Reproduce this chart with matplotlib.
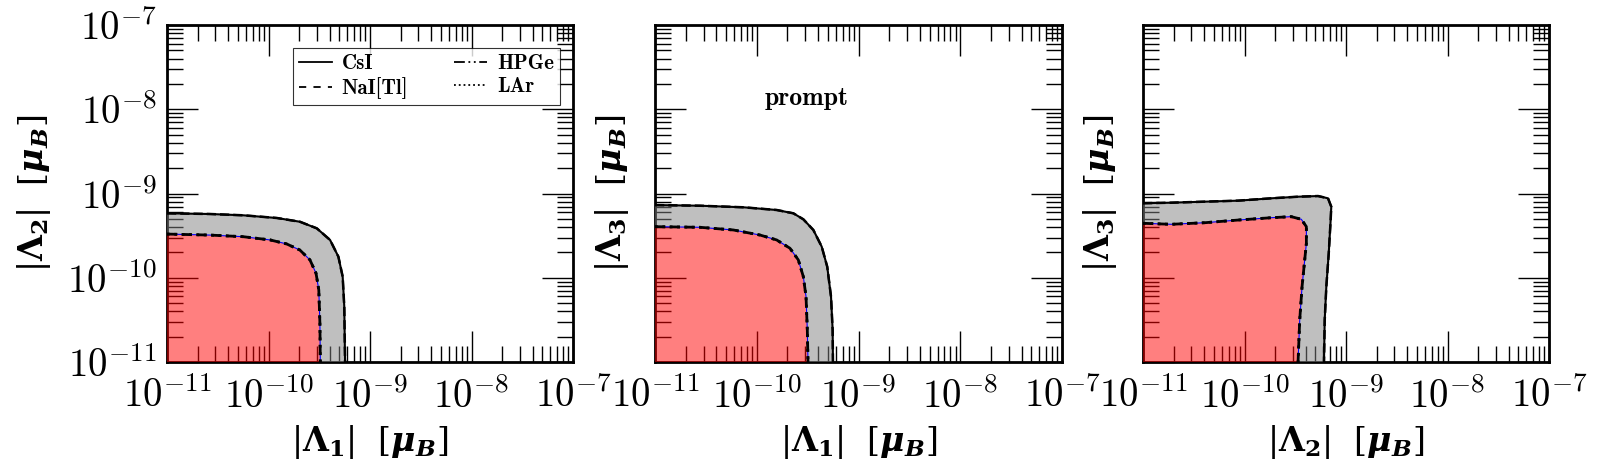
import numpy as np
import matplotlib
matplotlib.use("Agg")
import matplotlib.pyplot as plt
from matplotlib.lines import Line2D
from matplotlib.ticker import LogLocator, FuncFormatter, NullFormatter

plt.rcParams['mathtext.fontset'] = 'cm'
plt.rcParams['mathtext.rm'] = 'DejaVu Serif'
plt.rcParams['mathtext.bf'] = 'DejaVu Serif:bold'
plt.rcParams['mathtext.bfit'] = 'DejaVu Serif:italic:bold'
plt.rcParams['mathtext.it'] = 'DejaVu Serif:italic'

# boundaries of the allowed regions
# panel 1: |L1| vs |L2|
p1_outer_x = [1.0e-11, 2.65e-11, 5.65e-11, 1.21e-10, 2.04e-10, 2.99e-10, 4.04e-10, 4.88e-10, 5.38e-10, 5.58e-10, 5.68e-10]
p1_outer_y = [5.82e-10, 5.71e-10, 5.51e-10, 5.12e-10, 4.62e-10, 3.86e-10, 2.81e-10, 1.78e-10, 1.03e-10, 4.53e-11, 1.0e-11]
p1_inner_x = [1.0e-11, 2.65e-11, 5.65e-11, 1.04e-10, 1.51e-10, 2.04e-10, 2.56e-10, 2.94e-10, 3.13e-10, 3.21e-10, 3.24e-10]
p1_inner_y = [3.30e-10, 3.21e-10, 3.07e-10, 2.81e-10, 2.52e-10, 2.13e-10, 1.63e-10, 1.13e-10, 7.16e-11, 2.88e-11, 1.0e-11]

# panel 2: |L1| vs |L3|
p2_outer_x = [1.0e-11, 2.77e-11, 7.38e-11, 1.57e-10, 2.29e-10, 2.87e-10, 3.60e-10, 4.35e-10, 4.93e-10, 5.37e-10, 5.57e-10, 5.61e-10]
p2_outer_y = [7.29e-10, 7.16e-10, 6.86e-10, 6.37e-10, 5.82e-10, 4.94e-10, 3.69e-10, 2.34e-10, 1.35e-10, 5.96e-11, 2.40e-11, 1.0e-11]
p2_inner_x = [1.0e-11, 2.77e-11, 5.89e-11, 1.08e-10, 1.57e-10, 2.12e-10, 2.56e-10, 2.87e-10, 3.05e-10, 3.14e-10, 3.19e-10]
p2_inner_y = [4.04e-10, 3.97e-10, 3.69e-10, 3.21e-10, 2.81e-10, 2.24e-10, 1.63e-10, 1.03e-10, 5.96e-11, 2.40e-11, 1.0e-11]

# panel 3: |L2| vs |L3|
p3_outer_x = [1.0e-11, 1.90e-11, 4.06e-11, 8.63e-11, 1.84e-10, 3.37e-10, 5.30e-10, 6.65e-10, 7.16e-10, 7.06e-10, 6.76e-10, 6.40e-10, 6.17e-10, 6.07e-10]
p3_outer_y = [7.66e-10, 7.78e-10, 8.00e-10, 8.22e-10, 8.77e-10, 9.16e-10, 9.33e-10, 8.77e-10, 6.97e-10, 4.84e-10, 1.95e-10, 7.83e-11, 3.16e-11, 1.0e-11]
p3_inner_x = [1.0e-11, 1.90e-11, 4.06e-11, 8.63e-11, 1.84e-10, 2.89e-10, 3.63e-10, 4.07e-10, 4.07e-10, 3.92e-10, 3.69e-10, 3.50e-10, 3.37e-10]
p3_inner_y = [4.43e-10, 4.31e-10, 4.50e-10, 4.84e-10, 5.16e-10, 5.31e-10, 4.94e-10, 4.04e-10, 2.56e-10, 1.63e-10, 7.83e-11, 3.16e-11, 1.0e-11]

detectors = ['CsI', 'NaI[Tl]', 'HPGe', 'LAr']
xlabels = [r'$|\mathbf{\Lambda_1}|\ \ [\mathbfit{\mu_B}]$',
           r'$|\mathbf{\Lambda_1}|\ \ [\mathbfit{\mu_B}]$',
           r'$|\mathbf{\Lambda_2}|\ \ [\mathbfit{\mu_B}]$']
ylabels = [r'$|\mathbf{\Lambda_2}|\ \ [\mathbfit{\mu_B}]$',
           r'$|\mathbf{\Lambda_3}|\ \ [\mathbfit{\mu_B}]$',
           r'$|\mathbf{\Lambda_3}|\ \ [\mathbfit{\mu_B}]$']

panels = [(p1_outer_x, p1_outer_y, p1_inner_x, p1_inner_y),
          (p2_outer_x, p2_outer_y, p2_inner_x, p2_inner_y),
          (p3_outer_x, p3_outer_y, p3_inner_x, p3_inner_y)]

lo, hi = 1e-11, 1e-7
hpge_dash = (0, (6, 2, 1, 2, 1, 2))

fig = plt.figure(figsize=(15.97, 4.74), dpi=100)
lefts = [167, 655, 1143]
widths = [406, 407, 406]

def fmt(v, pos):
    return r'$10^{%d}$' % int(round(np.log10(v)))

for i, (ox, oy, ix, iy) in enumerate(panels):
    ax = fig.add_axes([lefts[i] / 1597, 112 / 474, widths[i] / 1597, 337 / 474])
    ax.set_xscale('log')
    ax.set_yscale('log')
    ax.set_xlim(lo, hi)
    ax.set_ylim(lo, hi)

    # gray band between outer and inner boundary
    ring_x = list(ox) + list(ix[::-1])
    ring_y = list(oy) + list(iy[::-1])
    ax.fill(ring_x, ring_y, color='gray', alpha=0.5, lw=0, zorder=3)
    # red inner region
    ax.fill(list(ix) + [lo], list(iy) + [lo], color='red', alpha=0.5, lw=0, zorder=3)

    ax.plot(ox, oy, color='k', ls='-', lw=1.5, zorder=4)
    ax.plot(ox, oy, color='k', ls='--', lw=1.8, zorder=4)
    ax.plot(ix, iy, color='blue', ls='-', lw=0.8, zorder=4)
    ax.plot(ix, iy, color='k', ls='--', lw=2.0, zorder=4)
    ax.plot(ix, iy, color='k', ls=':', lw=2.0, zorder=4)

    for s in ax.spines.values():
        s.set_linewidth(2.0)
    for a in (ax.xaxis, ax.yaxis):
        a.set_major_locator(LogLocator(base=10, numticks=10))
        a.set_minor_locator(LogLocator(base=10, subs=np.arange(2, 10), numticks=20))
        a.set_minor_formatter(NullFormatter())
    ax.xaxis.set_major_formatter(FuncFormatter(fmt))
    ax.yaxis.set_major_formatter(FuncFormatter(fmt))
    ax.tick_params(which='both', direction='in', top=True, right=True, width=1.0)
    ax.tick_params(which='major', length=22, labelsize=28)
    ax.tick_params(which='minor', length=11.5)
    ax.tick_params(axis='x', which='major', pad=11)
    ax.tick_params(axis='y', which='major', pad=7)
    if i > 0:
        ax.tick_params(axis='y', labelleft=False)

    ax.set_xlabel(xlabels[i], fontsize=24, math_fontfamily='custom')
    ax.set_ylabel(ylabels[i], fontsize=24, math_fontfamily='custom')
    ax.xaxis.set_label_coords(0.5, -0.18)
    if i == 0:
        ax.yaxis.set_label_coords(-0.28, 0.5)
    else:
        ax.yaxis.set_label_coords(-0.06, 0.5)

    if i == 0:
        handles = [Line2D([], [], color='k', ls='-', lw=1.3),
                   Line2D([], [], color='k', ls=(0, (4, 4)), lw=1.3),
                   Line2D([], [], color='k', ls=hpge_dash, lw=1.3),
                   Line2D([], [], color='k', ls=':', lw=1.3)]
        leg = ax.legend(handles, detectors, ncol=2, loc='upper right',
                        bbox_to_anchor=(0.968, 0.932), frameon=True, fancybox=False,
                        prop={'family': 'cmb10', 'size': 15}, handlelength=1.6,
                        handletextpad=0.45, columnspacing=2.2, labelspacing=0.2,
                        borderpad=0.3, borderaxespad=0)
        leg.get_frame().set_edgecolor('k')
        leg.get_frame().set_linewidth(0.8)
        leg.set_zorder(5)
    if i == 1:
        ax.text(0.373, 0.763, 'prompt', transform=ax.transAxes, ha='center',
                va='baseline', fontsize=18.5, family='cmb10')

fig.savefig('out.png', dpi=100)
